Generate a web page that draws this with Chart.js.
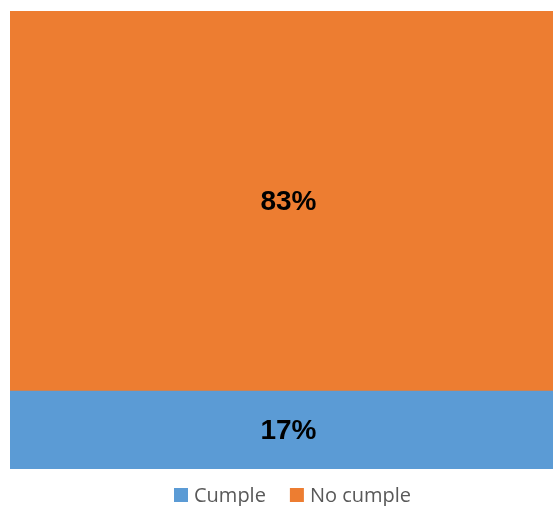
<!DOCTYPE html>
<html>
<head>
<meta charset="utf-8">
<script src="https://cdn.jsdelivr.net/npm/chart.js@4"></script>
<style>
html,body{margin:0;padding:0;background:#fff;}
#wrap{width:553px;height:506px;position:relative;}
</style>
</head>
<body>
<div id="wrap"><canvas id="c" width="553" height="506"></canvas></div>
<script>
const categories = [""];
const seriesNames = ["Cumple", "No cumple"];
const cumple = [17];
const noCumple = [83];
const colors = ["#5B9BD5", "#ED7D31"];

const labelPlugin = {
  id: 'segLabels',
  afterDatasetsDraw(chart) {
    const ctx = chart.ctx;
    ctx.save();
    ctx.font = 'bold 28px "Liberation Sans", Arial, sans-serif';
    ctx.fillStyle = '#000';
    ctx.textAlign = 'center';
    ctx.textBaseline = 'middle';
    chart.data.datasets.forEach((ds, i) => {
      const meta = chart.getDatasetMeta(i);
      meta.data.forEach((bar, j) => {
        const y = (bar.y + bar.base) / 2;
        ctx.fillText(ds.data[j] + '%', bar.x + 7, y + 1);
      });
    });
    ctx.restore();
  }
};

const legendPlugin = {
  id: 'customLegend',
  afterDraw(chart) {
    const ctx = chart.ctx;
    ctx.save();
    ctx.font = '20px "Open Sans", sans-serif';
    ctx.textBaseline = 'alphabetic';
    ctx.textAlign = 'left';
    const box = 14, gapText = 6, gapItem = 24;
    const base = chart.chartArea.bottom + 33;
    const boxTop = chart.chartArea.bottom + 19;
    let x = 174;
    chart.data.datasets.forEach((ds) => {
      ctx.fillStyle = ds.backgroundColor;
      ctx.fillRect(x, boxTop, box, box);
      x += box + gapText;
      ctx.fillStyle = '#595959';
      ctx.fillText(ds.label, x, base);
      x += ctx.measureText(ds.label).width + gapItem;
    });
    ctx.restore();
  }
};

new Chart(document.getElementById('c'), {
  type: 'bar',
  data: {
    labels: categories,
    datasets: [
      { label: seriesNames[0], data: cumple, backgroundColor: colors[0], borderWidth: 0, barPercentage: 1, categoryPercentage: 1 },
      { label: seriesNames[1], data: noCumple, backgroundColor: colors[1], borderWidth: 0, barPercentage: 1, categoryPercentage: 1 }
    ]
  },
  options: {
    responsive: false,
    animation: false,
    layout: { padding: { left: 10, top: 11, right: 0, bottom: 37 } },
    scales: {
      x: { stacked: true, display: false },
      y: { stacked: true, display: false, min: 0, max: 100 }
    },
    plugins: {
      tooltip: { enabled: false },
      legend: { display: false }
    }
  },
  plugins: [labelPlugin, legendPlugin]
});
</script>
</body>
</html>
